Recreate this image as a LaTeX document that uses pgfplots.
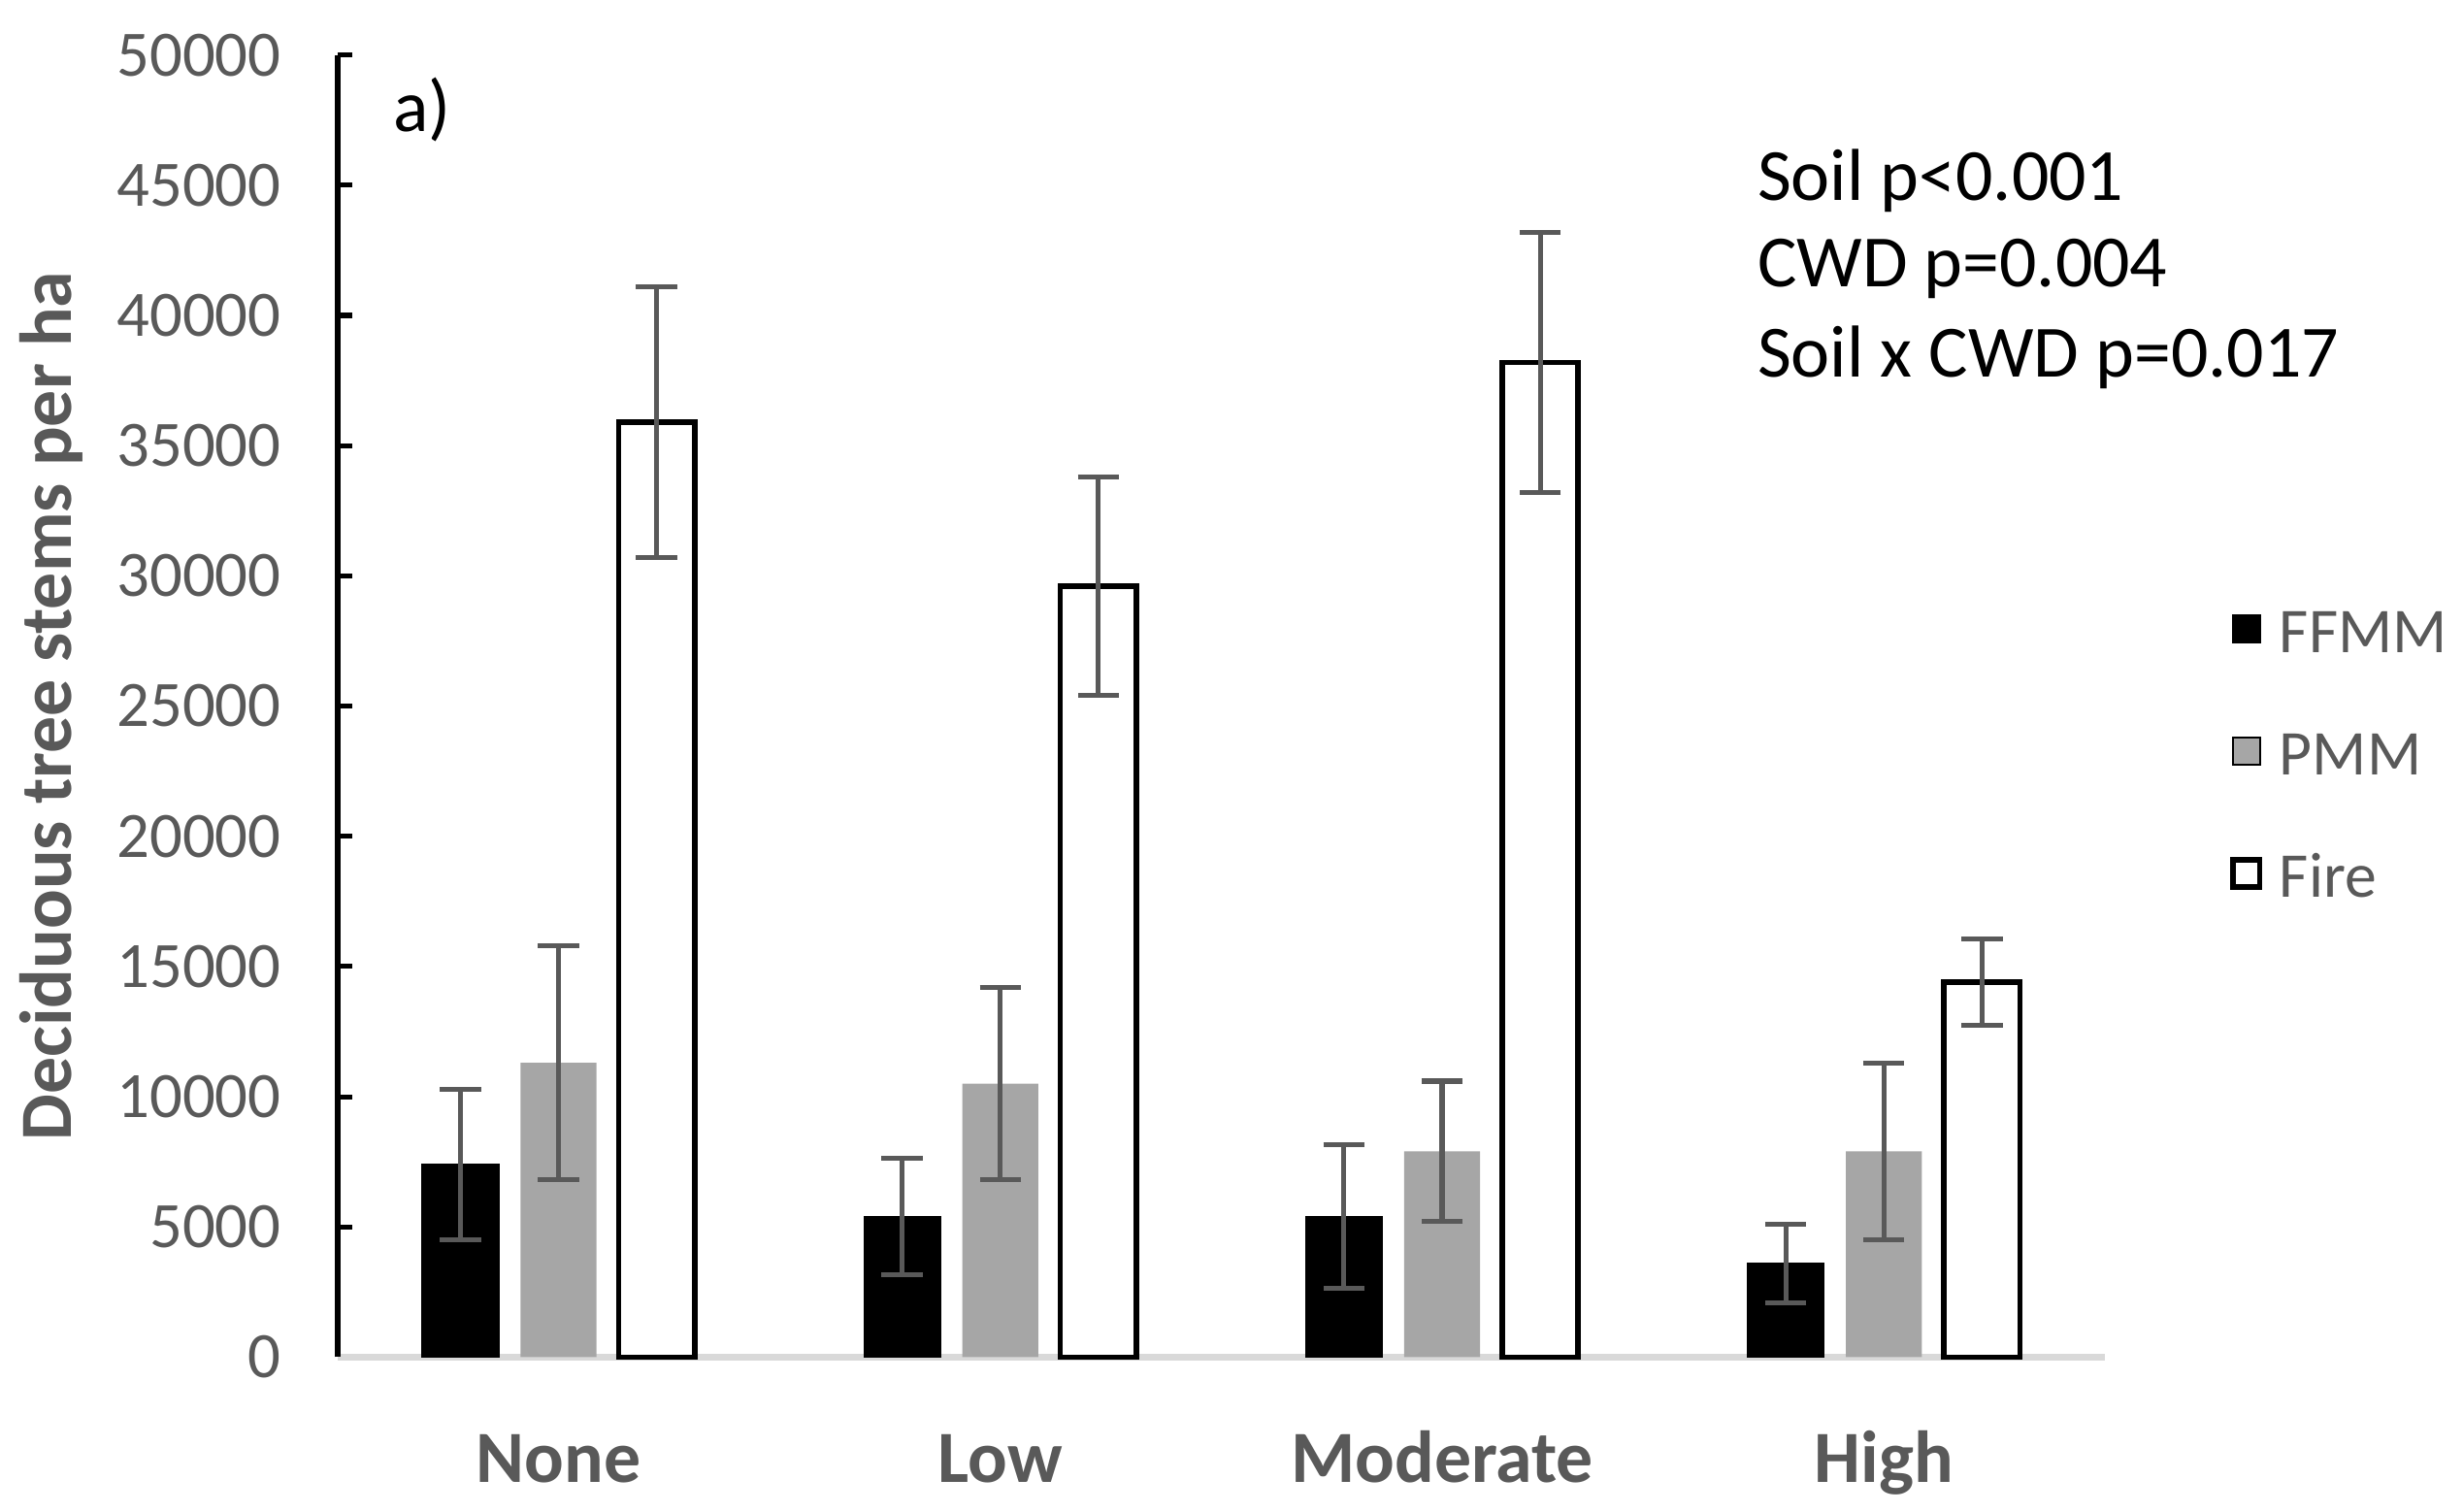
\documentclass[border=0pt]{standalone}
\usepackage{fontspec}
\setmainfont{Carlito}
\usepackage{pgfplots}
\usepackage{pgfplotstable}
\pgfplotsset{compat=1.18}

\definecolor{txtgray}{HTML}{595959}
\definecolor{bargray}{HTML}{A6A6A6}
\definecolor{axgray}{HTML}{D9D9D9}

% stems per ha, mean and error, by CWD level
\pgfplotstableread{
x FFMM eF   PMM   eP   Fire  eR
0 7400 2900 11300 4500 35900 5200
1 5400 2250 10500 3700 29600 4200
2 5400 2750 7900  2700 38200 5000
3 3600 1500 7900  3400 14400 1650
}\stems

\begin{document}
\begin{tikzpicture}
\begin{axis}[
  width=360pt, height=265.3pt, scale only axis, clip=false,
  ybar, bar width=0.172,
  xmin=-0.5, xmax=3.5, ymin=0, ymax=50000,
  axis x line*=bottom, axis y line*=left,
  axis line style={-},
  x axis line style={draw=axgray, line width=1.3pt},
  y axis line style={draw=black, line width=1pt},
  xtick={0,1,2,3}, xticklabels={None,Low,Moderate,High},
  xtick style={draw=none},
  xticklabel style={font=\fontsize{15}{18}\selectfont\bfseries, text=txtgray, text height=10pt, yshift=-12pt},
  ytick={0,5000,...,50000}, scaled y ticks=false,
  tick align=inside, major tick length=3pt,
  ytick style={black, line width=1pt},
  yticklabel style={font=\fontsize{13.2}{15}\selectfont, text=txtgray, xshift=-8pt},
  /pgf/number format/1000 sep={},
  /pgf/number format/assume math mode=true,
  ylabel={Deciduous tree stems per ha},
  ylabel style={at={(axis description cs:-0.162,0.5)}, anchor=center,
    font=\fontsize{15}{17}\selectfont\bfseries, text=txtgray},
  legend style={draw=none, fill=none, inner sep=0pt, outer sep=0pt,
    at={(axis description cs:1.071,0.573)}, anchor=north west,
    font=\fontsize{13}{15}\selectfont, text=txtgray, row sep=16.4pt,
    nodes={inner sep=0pt, text height=8.5pt, text depth=0pt}},
  legend cell align=left,
  legend image code/.code={\draw[#1] (0pt,-2.2pt) rectangle (5.5pt,3.3pt); \path[draw=none, fill=none] (5.5pt,0pt) -- (9.5pt,0pt);},
  error bars/error bar style={txtgray, line width=1pt},
  error bars/error mark options={rotate=90, txtgray, line width=1pt, mark size=4.2pt},
]
\addplot[fill=black, draw=black, line width=0.4pt, bar shift=-0.222,
  error bars/.cd, y dir=both, y explicit]
  table[x=x, y=FFMM, y error=eF]{\stems};
\addplot[fill=bargray, draw=none, bar shift=0,
  error bars/.cd, y dir=both, y explicit]
  table[x=x, y=PMM, y error=eP]{\stems};
\addplot[fill=white, draw=black, line width=1.1pt, bar shift=0.222,
  error bars/.cd, y dir=both, y explicit]
  table[x=x, y=Fire, y error=eR]{\stems};
\legend{FFMM,PMM,Fire}

\node[anchor=west, inner sep=0pt, font=\fontsize{15}{18}\selectfont] at (axis description cs:0.031,0.958) {a)};
\node[anchor=base west, inner sep=0pt, font=\fontsize{15}{18}\selectfont] at (axis description cs:0.803,0.888) {Soil p<0.001};
\node[anchor=base west, inner sep=0pt, font=\fontsize{15}{18}\selectfont] at (axis description cs:0.803,0.822) {CWD p=0.004};
\node[anchor=base west, inner sep=0pt, font=\fontsize{15}{18}\selectfont] at (axis description cs:0.803,0.753) {Soil x CWD p=0.017};
\end{axis}
\path ([shift={(-68.8pt,-31.4pt)}]current axis.south west) rectangle ([shift={(73pt,11.2pt)}]current axis.north east);
\end{tikzpicture}
\end{document}
